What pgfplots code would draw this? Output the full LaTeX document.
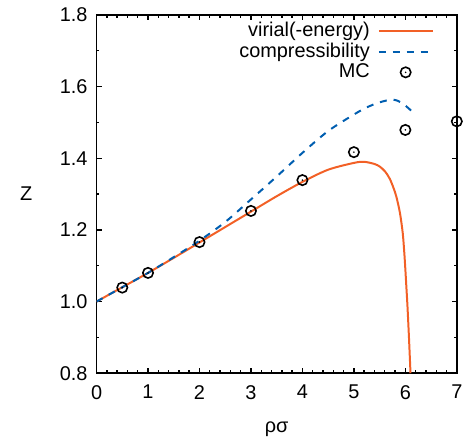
\documentclass[border=0pt]{standalone}
\usepackage{pgfplots}
\pgfplotsset{compat=1.18}
\usepackage{fontspec}
\setmainfont{Liberation Sans}
\definecolor{vorange}{RGB}{242,96,38}
\definecolor{cblue}{RGB}{0,94,176}
\pgfdeclareplotmark{odot}{%
  \pgfpathcircle{\pgfpoint{0pt}{0pt}}{\pgfplotmarksize}\pgfusepathqstroke
  \pgfpathcircle{\pgfpoint{0pt}{0pt}}{0.45pt}\pgfusepathqfill}
\begin{document}
\begin{tikzpicture}
\begin{axis}[
  scale only axis, width=181pt, height=180pt,
  xmin=0, xmax=7, ymin=0.8, ymax=1.8,
  xtick={0,1,...,7}, ytick={0.8,1.0,...,1.8},
  yticklabel style={xshift=-1pt, /pgf/number format/.cd, fixed, fixed zerofill, precision=1},
  minor x tick num=4, minor y tick num=1,
  tick align=inside, major tick length=2.6pt, minor tick length=1.4pt,
  tick style={black, line width=0.7pt},
  axis line style={line width=0.8pt},
  /pgf/number format/assume math mode=true,
  tick label style={font=\fontsize{10}{12}\selectfont},
  xticklabel style={yshift=-2.5pt},
  xlabel={ρσ}, ylabel={Z},
  label style={font=\fontsize{10}{12}\selectfont},
  xlabel shift=4.5pt, ylabel shift=7pt,
  ylabel style={rotate=-90},
  legend style={draw=none, fill=none, at={(1,1)}, anchor=north east,
    xshift=-8.5pt, yshift=0.5pt, font=\fontsize{10}{12}\selectfont,
    row sep=-2.3pt, /tikz/every odd column/.append style={column sep=2pt}},
  legend cell align=right,
  legend plot pos=right,
  legend image code/.code={\draw[mark repeat=2,mark phase=2,#1] plot coordinates {(0pt,0pt) (13.5pt,0pt) (27pt,0pt)};},
]
\addplot[vorange, line width=1pt, smooth, no markers] coordinates {
(0,1.0) (0.5,1.040) (1,1.080) (1.5,1.122) (2,1.165) (2.5,1.208) (3,1.251) (3.5,1.294) (4,1.334) (4.5,1.368) (5,1.387) (5.2,1.390) (5.4,1.384) (5.5,1.377) (5.6,1.364) (5.7,1.342) (5.8,1.305) (5.85,1.278) (5.9,1.243) (5.95,1.19) (5.98,1.135) (6.0,1.09) (6.02,1.04) (6.04,0.99) (6.07,0.9) (6.10,0.8)};
\addlegendentry{virial(-energy)}
\addplot[cblue, line width=1pt, dash pattern=on 3.5pt off 3.5pt, smooth, no markers] coordinates {
(0,1.0) (0.5,1.040) (1,1.080) (1.5,1.124) (2,1.170) (2.5,1.222) (3,1.285) (3.5,1.349) (4,1.415) (4.5,1.476) (5,1.522) (5.25,1.542) (5.5,1.556) (5.75,1.564) (5.9,1.557) (6.0,1.547) (6.12,1.532)};
\addlegendentry{compressibility}
\addplot[only marks, mark=odot, mark size=2.6pt, black, line width=0.8pt] coordinates {
(0.5,1.039) (1,1.080) (2,1.166) (3,1.253) (4,1.339) (5,1.417) (6,1.479) (7,1.503)};
\addlegendentry{MC}
\end{axis}
\path (current axis.south west) ++(-48.5pt,-33.5pt) coordinate (bbl);
\path (current axis.north east) ++(5pt,7.5pt) coordinate (btr);
\useasboundingbox (bbl) rectangle (btr);
\end{tikzpicture}
\end{document}
